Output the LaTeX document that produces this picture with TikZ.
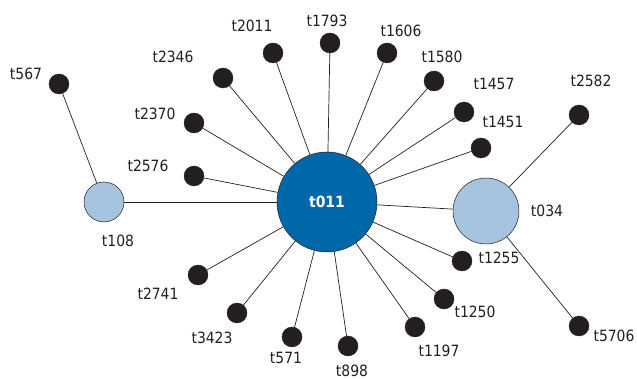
\documentclass[tikz,border=0pt]{standalone}
\usepackage{fontspec}
\setmainfont{DejaVu Sans Condensed}
\definecolor{hubblue}{HTML}{0068A8}
\definecolor{lightblue}{HTML}{A6C3E0}
\definecolor{dotblack}{HTML}{231F20}
\begin{document}
\begin{tikzpicture}[x=1pt,y=-1pt,
  dot/.style={circle,fill=dotblack,draw=dotblack,line width=0.4pt,minimum size=20pt,inner sep=0pt},
  hub/.style={circle,fill=hubblue,draw=dotblack,line width=0.5pt,minimum size=100pt,inner sep=0pt,text=white,font=\fontsize{15.5}{17}\selectfont\bfseries},
  sub/.style={circle,fill=lightblue,draw=dotblack,line width=0.5pt,inner sep=0pt},
  lbl/.style={font=\fontsize{15.5}{17}\selectfont,text=dotblack,inner sep=0pt},
  link/.style={draw=dotblack,line width=0.7pt}]
\useasboundingbox (0,0) rectangle (637,379);
% nodes
\node[hub] (t011) at (327,202) {t011};
\node[sub,minimum size=40pt] (t108) at (104,202) {};
\node[sub,minimum size=66pt] (t034) at (486,211) {};
\foreach \n/\x/\y in {t567/59/84, t2346/223/78, t2011/273/53, t2370/194/123, t2576/194/176,
  t1793/330/43, t1606/387/53, t1580/434/81, t1457/464/112, t1451/481/148, t2582/579/115,
  t2741/198/275, t3423/237/313, t571/292/337, t1255/462/261, t1250/444/299, t1197/415/327,
  t898/348/346, t5706/579/326}
  {\node[dot] (\n) at (\x,\y) {};}
% connectors
\foreach \n in {t2346,t2011,t2370,t2576,t1793,t1606,t1580,t1457,t1451,t2741,t3423,t571,t1255,t1250,t1197,t898,t108,t034}
  {\draw[link] (t011) -- (\n);}
\draw[link] (t108) -- (t567);
\draw[link] (t034) -- (t2582);
\draw[link] (t034) -- (t5706);
% labels
\node[lbl] (l567) at (26,74) {t567};
\node[lbl] (l2346) at (173,57) {t2346};
\node[lbl] (l2011) at (252,26) {t2011};
\node[lbl] (l2370) at (155,114) {t2370};
\node[lbl] (l2576) at (148,166) {t2576};
\node[lbl] (l1793) at (327,21) {t1793};
\node[lbl] (l1606) at (401,31) {t1606};
\node[lbl] (l1580) at (442,57) {t1580};
\node[lbl] (l1457) at (494,84) {t1457};
\node[lbl] (l1451) at (503,122) {t1451};
\node[lbl] (l2582) at (591,81) {t2582};
\node[lbl] (l108) at (118,241) {t108};
\node[lbl] (l2741) at (158,294) {t2741};
\node[lbl] (l3423) at (212,338) {t3423};
\node[lbl] (l571) at (286,358) {t571};
\node[lbl] (l034) at (547,211) {t034};
\node[lbl] (l1255) at (499,258) {t1255};
\node[lbl] (l1250) at (475,312) {t1250};
\node[lbl] (l1197) at (439,351) {t1197};
\node[lbl,anchor=base] (l898) at (352,376.5) {t898};
\node[lbl] (l5706) at (614,336) {t5706};
\end{tikzpicture}
\end{document}
